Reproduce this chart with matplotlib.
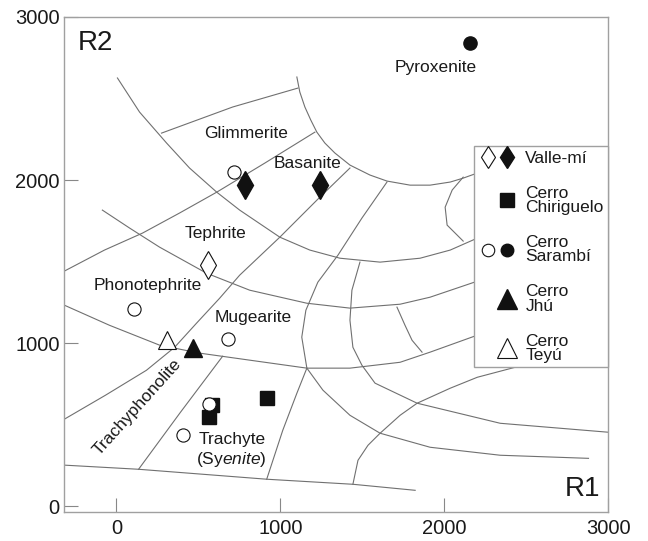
import matplotlib
matplotlib.use('Agg')
import matplotlib.pyplot as plt
from matplotlib.lines import Line2D
from matplotlib.legend_handler import HandlerTuple

plt.rcParams['font.family'] = ['Liberation Sans', 'DejaVu Sans']
plt.rcParams['mathtext.fontset'] = 'custom'
plt.rcParams['mathtext.rm'] = 'Liberation Sans'
plt.rcParams['mathtext.it'] = 'Liberation Sans:italic'

# samples (R1, R2)
valle_open_x = [557]
valle_open_y = [1479]
valle_black_x = [783, 1242]
valle_black_y = [1969, 1969]
chiriguelo_x = [581, 563, 917]
chiriguelo_y = [620, 546, 663]
sarambi_open_x = [716, 110, 679, 404, 563]
sarambi_open_y = [2049, 1209, 1025, 436, 626]
sarambi_black_x = [2159]
sarambi_black_y = [2840]
jhu_x = [465]
jhu_y = [969]
teyu_x = [306]
teyu_y = [1018]

# field boundaries of the R1-R2 diagram
bottom_line = [(-312, 252), (135, 227), (917, 166), (1443, 135), (1823, 98)]
trachyte_left = [(135, 227), (391, 577), (648, 920)]
trachyte_right = [(917, 166), (1015, 466), (1101, 693), (1162, 847)]
line_a = [(-318, 534), (-67, 681), (183, 834), (355, 975), (489, 1123), (630, 1276),
          (752, 1417), (997, 1650), (1242, 1896), (1425, 2074)]
line_b = [(-318, 1442), (-73, 1571), (159, 1675), (385, 1798), (612, 1926), (905, 2104),
          (1211, 2294)]
glimmerite_top = [(275, 2288), (709, 2448), (1107, 2564)]
pyroxenite_arc = [(1101, 2632), (1119, 2540), (1150, 2448), (1186, 2368), (1223, 2294),
                  (1272, 2227), (1333, 2166), (1425, 2092), (1547, 2031), (1651, 1994),
                  (1792, 1969), (1914, 1969), (2037, 1988), (2116, 2012), (2202, 2043),
                  (2342, 2086)]
arc_2 = [(6, 2626), (141, 2417), (306, 2227), (446, 2074), (612, 1926), (752, 1816),
         (997, 1650), (1180, 1571), (1364, 1521), (1609, 1497), (1853, 1521), (2037, 1571),
         (2202, 1644), (2404, 1718)]
arc_3 = [(-86, 1816), (80, 1706), (263, 1589), (550, 1429), (813, 1325), (1162, 1245),
         (1425, 1215), (1731, 1239), (1914, 1282), (2202, 1380), (2404, 1448)]
arc_4 = [(-318, 1233), (-43, 1110), (263, 988), (508, 939), (813, 896), (1162, 847),
         (1425, 847), (1731, 883), (1914, 945), (2202, 1049), (2404, 1123)]
big_arc = [(1651, 1988), (1498, 1767), (1352, 1540), (1229, 1374), (1156, 1202), (1131, 1037),
           (1162, 847), (1260, 712), (1425, 558), (1609, 448), (1914, 362), (2342, 313),
           (2881, 294)]
arc_e = [(1486, 1497), (1437, 1325), (1425, 1141), (1443, 975), (1498, 865), (1578, 755),
         (1835, 632), (2342, 509), (3003, 454)]
arc_g = [(1443, 135), (1474, 282), (1535, 374), (1609, 448), (1731, 558), (1835, 632),
         (2037, 724), (2202, 791), (2526, 877), (2709, 920)]
arc_h = [(1712, 1221), (1761, 1110), (1804, 1018), (1865, 945)]
lens = [(2116, 2018), (2049, 1939), (2006, 1834), (2018, 1724), (2116, 1626)]

boundaries = [bottom_line, trachyte_left, trachyte_right, line_a, line_b, glimmerite_top,
              pyroxenite_arc, arc_2, arc_3, arc_4, big_arc, arc_e, arc_g, arc_h, lens]

field_names = ['Glimmerite', 'Basanite', 'Tephrite', 'Phonotephrite', 'Mugearite', 'Pyroxenite']
field_pos = [(789, 2288), (1168, 2104), (606, 1675), (190, 1356), (832, 1160), (1951, 2693)]

fig = plt.figure(figsize=(6.48, 5.41), dpi=100)
ax = fig.add_axes([0.0988, 0.0536, 0.8395, 0.915])

for b in boundaries:
    xs, ys = zip(*b)
    ax.plot(xs, ys, color='#707070', lw=0.8, zorder=1)

ink = '#111111'
ax.plot(valle_open_x, valle_open_y, ls='none', marker='d', ms=14, mfc='white', mec=ink, mew=0.8, zorder=3)
ax.plot(valle_black_x, valle_black_y, ls='none', marker='d', ms=14, mfc=ink, mec=ink, zorder=3)
ax.plot(chiriguelo_x, chiriguelo_y, ls='none', marker='s', ms=10.5, mfc=ink, mec=ink, zorder=3)
ax.plot(sarambi_open_x, sarambi_open_y, ls='none', marker='o', ms=9.5, mfc='white', mec=ink, mew=0.8, zorder=4)
ax.plot(sarambi_black_x, sarambi_black_y, ls='none', marker='o', ms=9.5, mfc=ink, mec=ink, zorder=3)
ax.plot(jhu_x, jhu_y, ls='none', marker='^', ms=13.5, mfc=ink, mec=ink, zorder=3)
ax.plot(teyu_x, teyu_y, ls='none', marker='^', ms=13.5, mfc='white', mec=ink, mew=0.8, zorder=3)

for name, (x, y) in zip(field_names, field_pos):
    ax.text(x, y, name, fontsize=12.5, ha='center', va='center', color='#1a1a1a')
ax.text(128, 607, 'Trachyphonolite', fontsize=12.5, rotation=48, ha='center', va='center',
        rotation_mode='anchor', color='#1a1a1a')
ax.text(709, 411, 'Trachyte', fontsize=12.5, ha='center', va='center', color='#1a1a1a')
ax.text(703, 288, r'(Sy$\mathit{enite}$)', fontsize=12.5, ha='center', va='center', color='#1a1a1a')

ax.text(0.026, 0.947, 'R2', transform=ax.transAxes, fontsize=20, ha='left', va='center', color='#1a1a1a')
ax.text(0.985, 0.046, 'R1', transform=ax.transAxes, fontsize=20, ha='right', va='center', color='#1a1a1a')

ax.set_xlim(-320, 3000)
ax.set_ylim(-35, 3000)
ax.set_xticks([0, 1000, 2000, 3000])
ax.set_yticks([0, 1000, 2000, 3000])
ax.tick_params(direction='in', length=10, width=0.8, color='#888888', labelsize=14.5,
               labelcolor='#1a1a1a')
ax.tick_params(axis='y', pad=3)
ax.tick_params(axis='x', pad=5)
for s in ax.spines.values():
    s.set_color('#a0a0a0')
    s.set_linewidth(1)

# legend
blank = Line2D([], [], ls='none', marker='None')
handles = [
    (Line2D([], [], ls='none', marker='d', ms=11.5, mfc='white', mec=ink, mew=0.8),
     Line2D([], [], ls='none', marker='d', ms=11.5, mfc=ink, mec=ink)),
    (blank, Line2D([], [], ls='none', marker='s', ms=10, mfc=ink, mec=ink)),
    (Line2D([], [], ls='none', marker='o', ms=9, mfc='white', mec=ink, mew=0.8),
     Line2D([], [], ls='none', marker='o', ms=9, mfc=ink, mec=ink)),
    (blank, Line2D([], [], ls='none', marker='^', ms=15, mfc=ink, mec=ink)),
    (blank, Line2D([], [], ls='none', marker='^', ms=15, mfc='white', mec=ink, mew=0.8)),
]
labels = ['Valle-mí', 'Cerro\nChiriguelo', 'Cerro\nSarambí', 'Cerro\nJhú', 'Cerro\nTeyú']
leg = ax.legend(handles, labels, handler_map={tuple: HandlerTuple(ndivide=None, pad=0)},
                loc='upper right', bbox_to_anchor=(1.0, 0.739), borderaxespad=0,
                fancybox=False, edgecolor='#a0a0a0', framealpha=1, fontsize=12.5,
                handlelength=2.2, handletextpad=0.5, borderpad=0.25, labelspacing=1.15)
leg.get_frame().set_linewidth(1)
leg.set_zorder(5)
for t in leg.get_texts():
    t.set_linespacing(0.95)
    t.set_color('#1a1a1a')

fig.savefig('out.png', dpi=100)
